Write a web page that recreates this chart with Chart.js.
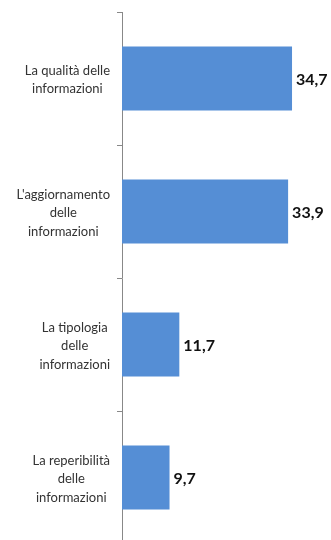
<!DOCTYPE html>
<html>
<head>
<meta charset="utf-8">
<script src="https://cdn.jsdelivr.net/npm/chart.js@4.4.1/dist/chart.umd.min.js"></script>
<style>
  html, body { margin: 0; padding: 0; background: #fff; overflow: hidden; }
</style>
</head>
<body>
<canvas id="myChart" width="331" height="552"></canvas>
<script>
const categories = [
    ['La qualità delle', 'informazioni'],
    ["L'aggiornamento", 'delle', 'informazioni'],
    ['La tipologia', 'delle', 'informazioni'],
    ['La reperibilità', 'delle', 'informazioni']
];
const values = [34.7, 33.9, 11.7, 9.7];

const fmt = v => v.toFixed(1).replace('.', ',');

// category labels: each block right-aligned, lines centred inside it
const categoryLabels = {
    id: 'categoryLabels',
    afterDraw(chart) {
        const ctx = chart.ctx;
        const y = chart.scales.y;
        ctx.save();
        ctx.font = '13px Lato';
        ctx.fillStyle = '#333333';
        ctx.textAlign = 'center';
        ctx.textBaseline = 'middle';
        const lineH = 18.5;
        const right = y.right - 12;
        categories.forEach((lines, i) => {
            const cy = y.getPixelForTick(i) + 1.5;
            const w = Math.max(...lines.map(l => ctx.measureText(l).width));
            const cx = right - w / 2;
            const top = cy - (lines.length - 1) * lineH / 2;
            lines.forEach((l, j) => ctx.fillText(l, cx, top + j * lineH));
        });
        ctx.restore();
    }
};

// bold value next to the end of each bar
const valueLabels = {
    id: 'valueLabels',
    afterDatasetsDraw(chart) {
        const ctx = chart.ctx;
        const meta = chart.getDatasetMeta(0);
        ctx.save();
        ctx.font = 'bold 16px Lato';
        ctx.fillStyle = '#111111';
        ctx.textAlign = 'left';
        ctx.textBaseline = 'middle';
        meta.data.forEach((bar, i) => {
            ctx.fillText(fmt(values[i]), bar.x + 4, bar.y + 1.5);
        });
        ctx.restore();
    }
};

window.addEventListener('load', setup);
function setup() {
    const ctx = document.getElementById('myChart').getContext('2d');
    new Chart(ctx, {
        type: 'bar',
        data: {
            labels: categories.map(c => c.join(' ')),
            datasets: [{
                data: values,
                backgroundColor: '#558ed5',
                borderWidth: 0,
                categoryPercentage: 1,
                barPercentage: 0.48
            }]
        },
        options: {
            responsive: false,
            animation: false,
            indexAxis: 'y',
            layout: { padding: { top: 12, right: 13, bottom: 8, left: 0 } },
            plugins: {
                legend: { display: false },
                tooltip: { enabled: false }
            },
            scales: {
                x: {
                    display: false,
                    min: 0,
                    max: 40
                },
                y: {
                    offset: true,
                    grid: {
                        offset: true,
                        drawOnChartArea: false,
                        drawTicks: true,
                        tickLength: 5,
                        color: '#888888'
                    },
                    border: { display: true, color: '#888888', width: 1 },
                    ticks: { display: false },
                    afterFit(scale) { scale.width = 122; }
                }
            }
        },
        plugins: [categoryLabels, valueLabels]
    });
}
</script>
</body>
</html>
